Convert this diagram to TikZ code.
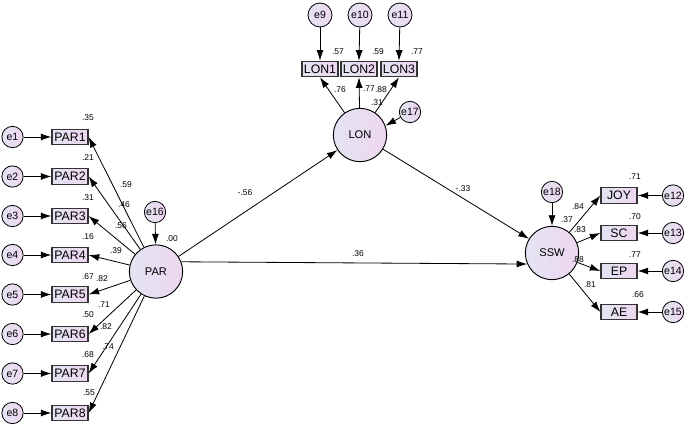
\documentclass[tikz,border=0pt]{standalone}
\usepackage{fontspec}
\setmainfont{Liberation Sans}
\usetikzlibrary{arrows.meta}
\definecolor{lavA}{RGB}{226,228,243}
\definecolor{lavB}{RGB}{239,214,240}

\begin{document}
\begin{tikzpicture}[
        x=0.3mm, y=-0.3mm,
        latent/.style={circle, draw, line width=0.8pt, left color=lavA, right color=lavB, minimum size=16mm, inner sep=0pt, font=\fontsize{9.5}{11}\selectfont},
        err/.style={circle, draw, line width=0.7pt, left color=lavA, right color=lavB, minimum size=6.4mm, inner sep=0pt, font=\fontsize{9}{10}\selectfont},
        obs/.style={rectangle, draw=black!80, line width=1.1pt, left color=lavA, right color=lavB, minimum width=10.8mm, minimum height=4.6mm, inner sep=1pt, font=\fontsize{10.5}{12}\selectfont},
        arrow/.style={-{Latex[length=9pt,width=6pt]}, line width=0.7pt},
        est/.style={font=\fontsize{7.2}{8}\selectfont, inner sep=0pt}
    ]
        \useasboundingbox (0,0) rectangle (690,427);

        % latent variables
        \node[latent] (par) at (156,271.5) {PAR};
        \node[latent] (lon) at (360,135) {LON};
        \node[latent] (ssw) at (552,253) {SSW};

        % PAR indicators
        \node[obs] (par1) at (70,137) {PAR1};
        \node[obs] (par2) at (70,176.5) {PAR2};
        \node[obs] (par3) at (70,216) {PAR3};
        \node[obs] (par4) at (70,255) {PAR4};
        \node[obs] (par5) at (70,294.5) {PAR5};
        \node[obs] (par6) at (70,334) {PAR6};
        \node[obs] (par7) at (70,373.5) {PAR7};
        \node[obs] (par8) at (70,413) {PAR8};

        \node[err] (e1) at (12.5,137) {e1};
        \node[err] (e2) at (12.5,176.5) {e2};
        \node[err] (e3) at (12.5,216) {e3};
        \node[err] (e4) at (12.5,255) {e4};
        \node[err] (e5) at (12.5,294.5) {e5};
        \node[err] (e6) at (12.5,334) {e6};
        \node[err] (e7) at (12.5,373.5) {e7};
        \node[err] (e8) at (12.5,413) {e8};

        % LON indicators
        \node[obs] (lon1) at (320,69) {LON1};
        \node[obs] (lon2) at (359,69) {LON2};
        \node[obs] (lon3) at (399,69) {LON3};
        \node[err, minimum size=7.2mm] (e9) at (320,15) {e9};
        \node[err, minimum size=7.2mm] (e10) at (360,15) {e10};
        \node[err, minimum size=7.2mm] (e11) at (400,15) {e11};

        % SSW indicators
        \node[obs] (joy) at (619,195.5) {JOY};
        \node[obs] (sc) at (619,233) {SC};
        \node[obs] (ep) at (619,271) {EP};
        \node[obs] (ae) at (619,312) {AE};
        \node[err] (e12) at (673,195.5) {e12};
        \node[err] (e13) at (673,233) {e13};
        \node[err] (e14) at (673,271) {e14};
        \node[err] (e15) at (673,312) {e15};

        % disturbances
        \node[err] (e16) at (155,212) {e16};
        \node[err] (e17) at (410,112) {e17};
        \node[err] (e18) at (552,192) {e18};

        % error arrows
        \draw[arrow] (e1) -- (par1.west);
        \draw[arrow] (e2) -- (par2.west);
        \draw[arrow] (e3) -- (par3.west);
        \draw[arrow] (e4) -- (par4.west);
        \draw[arrow] (e5) -- (par5.west);
        \draw[arrow] (e6) -- (par6.west);
        \draw[arrow] (e7) -- (par7.west);
        \draw[arrow] (e8) -- (par8.west);
        \draw[arrow] (e9) -- (lon1.north);
        \draw[arrow] (e10) -- (lon2.north);
        \draw[arrow] (e11) -- (lon3.north);
        \draw[arrow] (e12) -- (joy.east);
        \draw[arrow] (e13) -- (sc.east);
        \draw[arrow] (e14) -- (ep.east);
        \draw[arrow] (e15) -- (ae.east);
        \draw[arrow] (e16) -- (par);
        \draw[arrow] (e17) -- (lon.20);
        \draw[arrow] (e18) -- (ssw);

        % loadings
        \draw[arrow] (par) -- (par1.east);
        \draw[arrow] (par) -- (par2.east);
        \draw[arrow] (par) -- (par3.east);
        \draw[arrow] (par) -- (par4.east);
        \draw[arrow] (par) -- (par5.east);
        \draw[arrow] (par) -- (par6.east);
        \draw[arrow] (par) -- (par7.east);
        \draw[arrow] (par) -- (par8.east);
        \draw[arrow] (lon) -- (lon1.south);
        \draw[arrow] (lon) -- (lon2.south);
        \draw[arrow] (lon) -- (lon3.south);
        \draw[arrow] (ssw) -- (joy.west);
        \draw[arrow] (ssw) -- (sc.west);
        \draw[arrow] (ssw) -- (ep.west);
        \draw[arrow] (ssw) -- (ae.west);

        % structural paths
        \draw[arrow] (par) -- (lon);
        \draw[arrow] (lon) -- (ssw);
        \draw[arrow] (par.21) -- (ssw.204);

        % estimates
        \node[est] (r1) at (88,118) {.35};
        \node[est] (r2) at (88,158) {.21};
        \node[est] (r3) at (88,198) {.31};
        \node[est] (r4) at (88,237) {.16};
        \node[est] (r5) at (88,277) {.67};
        \node[est] (r6) at (88,315) {.50};
        \node[est] (r7) at (88,355) {.68};
        \node[est] (r8) at (89,393) {.55};
        \node[est] (l1) at (126,185) {.59};
        \node[est] (l2) at (124,205) {.46};
        \node[est] (l3) at (121,226) {.56};
        \node[est] (l4) at (116,251) {.39};
        \node[est] (l5) at (102,279) {.82};
        \node[est] (l6) at (104,305) {.71};
        \node[est] (l7) at (106,327) {.82};
        \node[est] (l8) at (108,347) {.74};
        \node[est] (r16) at (172,239) {.00};

        \node[est] (p1) at (245,193) {-.56};
        \node[est] (p2) at (463,189) {-.33};
        \node[est] (p3) at (358,254) {.36};

        \node[est] (r9) at (338,52) {.57};
        \node[est] (r10) at (378,52) {.59};
        \node[est] (r11) at (417,52) {.77};
        \node[est] (l9) at (340,90) {.76};
        \node[est] (l10) at (369,89) {.77};
        \node[est] (l11) at (381,90) {.88};
        \node[est] (r17) at (377,103) {.31};

        \node[est] (r12) at (635,177) {.71};
        \node[est] (r13) at (635,217) {.70};
        \node[est] (r14) at (635,255) {.77};
        \node[est] (r15) at (638,295) {.66};
        \node[est] (l12) at (578,207) {.84};
        \node[est] (r18) at (567,220) {.37};
        \node[est] (l13) at (580,230) {.83};
        \node[est] (l14) at (578,260) {.88};
        \node[est] (l15) at (590,285) {.81};
    \end{tikzpicture}
\end{document}
